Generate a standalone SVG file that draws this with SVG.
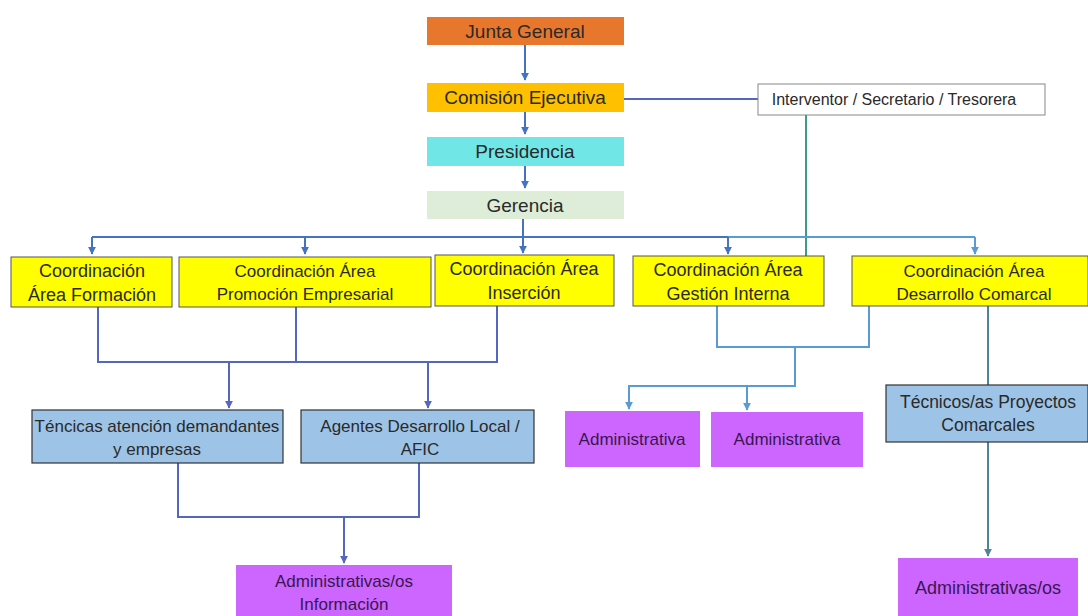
<svg xmlns="http://www.w3.org/2000/svg" width="1088" height="616" viewBox="0 0 1088 616">
<defs>
<marker id="ab" viewBox="0 0 10 10" refX="9" refY="5" markerWidth="8" markerHeight="8" markerUnits="userSpaceOnUse" orient="auto"><path d="M0,0 L10,5 L0,10 z" fill="#4472C4"/></marker>
<marker id="al" viewBox="0 0 10 10" refX="9" refY="5" markerWidth="8" markerHeight="8" markerUnits="userSpaceOnUse" orient="auto"><path d="M0,0 L10,5 L0,10 z" fill="#5B9BD5"/></marker>
<marker id="ap" viewBox="0 0 10 10" refX="9" refY="5" markerWidth="8" markerHeight="8" markerUnits="userSpaceOnUse" orient="auto"><path d="M0,0 L10,5 L0,10 z" fill="#5566C0"/></marker>
<marker id="as" viewBox="0 0 10 10" refX="9" refY="5" markerWidth="8" markerHeight="8" markerUnits="userSpaceOnUse" orient="auto"><path d="M0,0 L10,5 L0,10 z" fill="#4E8398"/></marker>
</defs>
<style>
text{font-family:"Liberation Sans",Arial,sans-serif;font-size:17px;fill:#2a2a2a;text-anchor:middle}
.h{font-size:19px}
.m{font-size:18px}
.c{fill:none;stroke-width:2}
.b{stroke:#4472C4}
.l{stroke:#5B9BD5}
.p{stroke:#5566C0}
.s{stroke:#4E8398}
.t{stroke:#3F9A8C}
.y{fill:#FFFF00;stroke:#555;stroke-width:1}
.bl{fill:#9DC3E6;stroke:#333;stroke-width:1.2}
.pu{fill:#CC66FF}
.pt{fill:#3a1650}
</style>
<rect width="1088" height="616" fill="#fff"/>
<g id="connectors">
<path class="c b" d="M525,45 V80" marker-end="url(#ab)"/>
<path class="c b" d="M525,112 V134" marker-end="url(#ab)"/>
<path class="c b" d="M525,166 V188" marker-end="url(#ab)"/>
<path class="c p" d="M624,99 H758"/>
<path class="c t" d="M806,115 V256"/>
<path class="c b" d="M523,219 V237"/>
<path class="c b" d="M92,237 H728"/>
<path class="c l" d="M728,237 H975"/>
<path class="c b" d="M92,237 V254" marker-end="url(#ab)"/>
<path class="c b" d="M305,237 V254" marker-end="url(#ab)"/>
<path class="c b" d="M523,237 V253" marker-end="url(#ab)"/>
<path class="c b" d="M728,237 V254" marker-end="url(#ab)"/>
<path class="c l" d="M975,237 V254" marker-end="url(#al)"/>
<path class="c p" d="M98,307 V362 H497 V306"/>
<path class="c p" d="M296,307 V362"/>
<path class="c p" d="M229,362 V408" marker-end="url(#ap)"/>
<path class="c p" d="M428,362 V408" marker-end="url(#ap)"/>
<path class="c p" d="M178,463 V517 H419 V463"/>
<path class="c p" d="M344,517 V563" marker-end="url(#ap)"/>
<path class="c l" d="M717,306 V347 H869 V306"/>
<path class="c l" d="M795,347 V386 H629 V409" marker-end="url(#al)"/>
<path class="c l" d="M747,386 V410" marker-end="url(#al)"/>
<path class="c s" d="M988,306 V385"/>
<path class="c s" d="M988,442 V556" marker-end="url(#as)"/>
</g>
<g id="junta"><rect x="427" y="17" width="197" height="28" fill="#E8772E"/><text class="h" x="525" y="38" fill="#3a2210">Junta General</text></g>
<g id="comision"><rect x="427" y="83" width="197" height="29" fill="#FFC000"/><text class="h" x="525" y="104">Comisión Ejecutiva</text></g>
<g id="presidencia"><rect x="427" y="137" width="197" height="29" fill="#70E6E6"/><text class="h" x="525" y="158" fill="#1f3a3a">Presidencia</text></g>
<g id="gerencia"><rect x="427" y="191" width="197" height="28" fill="#DDEDD8"/><text class="h" x="525" y="212">Gerencia</text></g>
<g id="interventor"><rect x="758" y="84" width="287" height="31" fill="#fff" stroke="#888" stroke-width="1"/><text x="894" y="105" style="font-size:16px">Interventor / Secretario  / Tresorera</text></g>
<g id="formacion"><rect class="y" x="11" y="257" width="161" height="50"/><text class="m" x="92" y="277">Coordinación</text><text class="m" x="92" y="301">Área Formación</text></g>
<g id="promocion"><rect class="y" x="179" y="257" width="252" height="50"/><text x="305" y="277">Coordinación Área</text><text x="305" y="300">Promoción Empresarial</text></g>
<g id="insercion"><rect class="y" x="435" y="255" width="179" height="51"/><text class="m" x="524" y="275">Coordinación Área</text><text class="m" x="524" y="299">Inserción</text></g>
<g id="gestion"><rect class="y" x="633" y="256" width="191" height="50"/><text class="m" x="728" y="276">Coordinación Área</text><text class="m" x="728" y="300">Gestión Interna</text></g>
<g id="desarrollo"><rect class="y" x="852" y="256" width="236" height="50"/><text x="974" y="277">Coordinación Área</text><text x="974" y="300">Desarrollo Comarcal</text></g>
<g id="tecnicas"><rect class="bl" x="32" y="410" width="251" height="53"/><text x="157" y="432">Téncicas atención demandantes</text><text x="157" y="455">y empresas</text></g>
<g id="agentes"><rect class="bl" x="301" y="410" width="233" height="53"/><text x="420" y="432">Agentes  Desarrollo Local /</text><text x="420" y="455">AFIC</text></g>
<g id="admin1"><rect class="pu" x="565" y="411" width="135" height="56"/><text class="pt" x="632" y="445">Administrativa</text></g>
<g id="admin2"><rect class="pu" x="711" y="412" width="152" height="55"/><text class="pt" x="787" y="445">Administrativa</text></g>
<g id="tecnicos"><rect class="bl" x="886" y="385" width="202" height="57"/><text x="988" y="408" style="font-size:17.5px">Técnicos/as Proyectos</text><text x="988" y="431" style="font-size:17.5px">Comarcales</text></g>
<g id="admininfo"><rect class="pu" x="236" y="565" width="216" height="52"/><text class="pt" x="344" y="587">Administrativas/os</text><text class="pt" x="344" y="610">Información</text></g>
<g id="admincom"><rect class="pu" x="898" y="558" width="180" height="58"/><text class="pt m" x="988" y="594">Administrativas/os</text></g>
</svg>
